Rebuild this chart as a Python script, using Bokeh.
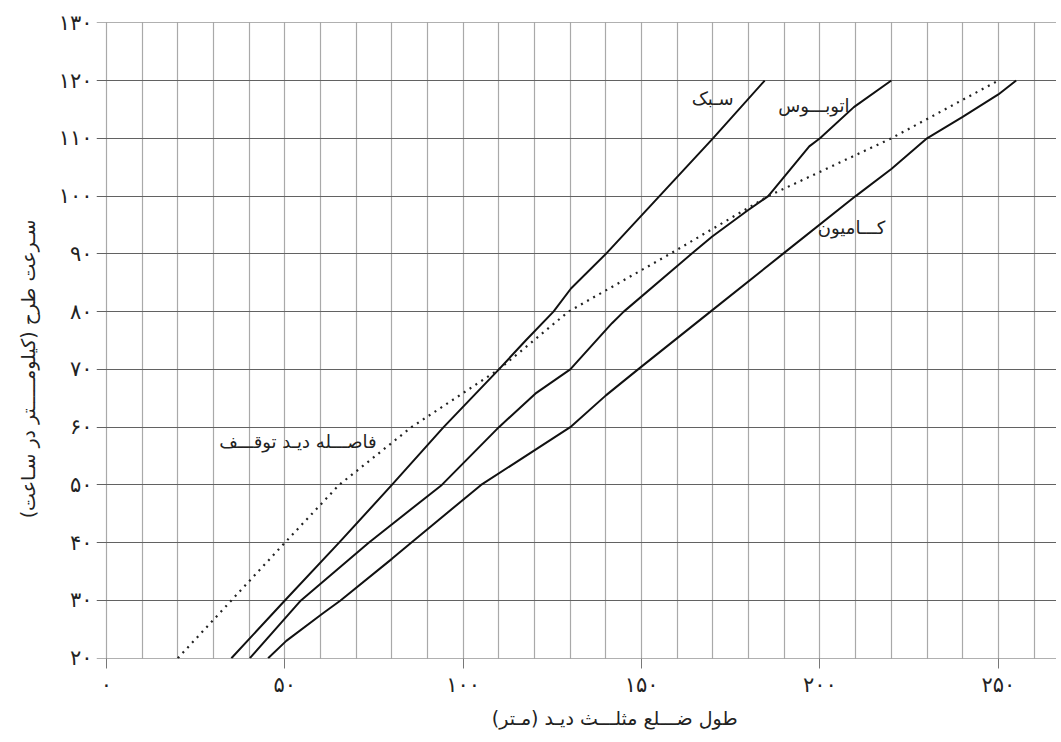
from bokeh.plotting import figure
from bokeh.models import FixedTicker, Range1d, ColumnDataSource, Title
from bokeh.embed import file_html
from bokeh.resources import INLINE
from bokeh.core.properties import value

# ---- data ----
# light vehicles (سبک)
light_x = [35, 50, 65.2, 80, 94.5, 110, 117.5, 125.3, 130.2, 140, 155, 170, 184.5]
light_y = [20, 30, 40, 50, 60, 70, 75, 80, 84, 90, 100, 110, 120]
# bus (اتوبوس)
bus_x = [40.2, 54.5, 73.5, 94, 110, 120.2, 130, 141.7, 145, 164, 169.8, 179.7, 185.5, 197, 200, 209.5, 220]
bus_y = [20, 30, 40, 50, 60, 65.8, 70, 78, 80, 90, 93, 97.5, 100, 108.6, 110, 115.4, 120]
# truck (کامیون)
truck_x = [45.3, 50.4, 60.5, 65.6, 80, 85.4, 105, 130, 140, 149, 169.3, 189.6, 210, 220, 230, 240, 250, 255]
truck_y = [20, 23, 27.7, 30, 37.2, 40, 50, 60, 65.5, 70, 80, 90, 100, 104.7, 110, 113.7, 117.6, 120]
# stopping sight distance (فاصله دید توقف)
stop_x = [20, 35, 50, 65.2, 85.5, 110, 129.5, 158, 185.5, 220, 250]
stop_y = [20, 30, 40, 50, 60, 70, 80, 90, 100, 110, 120]

x_ticks = [0, 50, 100, 150, 200, 250]
x_tick_labels = ["۰", "۵۰", "۱۰۰", "۱۵۰", "۲۰۰", "۲۵۰"]
y_ticks = [20, 30, 40, 50, 60, 70, 80, 90, 100, 110, 120, 130]
y_tick_labels = ["۲۰", "۳۰", "۴۰", "۵۰", "۶۰", "۷۰", "۸۰", "۹۰", "۱۰۰", "۱۱۰", "۱۲۰", "۱۳۰"]

curve_names = ["سـبک", "اتوبـــوس", "کـــامیون", "فاصـــله دیـد توقـــف"]
x_title = "طول ضـــلع مثلـــث دیـد (مـتر)"
y_title = "سـرعت طرح (کیلومـــــتر در سـاعت)"

# label anchor points (right end of each curve name), data units
name_pos_x = [175.8, 208.3, 218.3, 75.7]
name_pos_y = [116.9, 115.7, 94.6, 57.6]

FONT = "DejaVu Sans"
INK = "#222222"

p = figure(width=1056, height=742,
           x_range=Range1d(-2.8, 266.3), y_range=Range1d(19.95, 130.05),
           output_backend="svg", toolbar_location=None,
           min_border_left=96, min_border_right=0,
           min_border_top=22, min_border_bottom=84)
p.outline_line_color = None
p.background_fill_color = "white"
p.border_fill_color = "white"

# grid
p.xgrid.ticker = FixedTicker(ticks=list(range(0, 261, 10)))
p.xgrid.grid_line_color = "#a9a9a9"
p.xgrid.grid_line_width = 1.2
p.ygrid.ticker = FixedTicker(ticks=list(range(20, 131, 10)))
p.ygrid.grid_line_color = "#626262"
p.ygrid.grid_line_width = 1

# x axis
p.xaxis.ticker = FixedTicker(ticks=x_ticks)
p.xaxis.major_label_overrides = {t: s for t, s in zip(x_ticks, x_tick_labels)}
p.xaxis.axis_line_color = None
p.xaxis.major_tick_out = 10
p.xaxis.major_tick_in = 0
p.xaxis.major_tick_line_color = "#777777"
p.xaxis.minor_tick_line_color = None
p.xaxis.major_label_text_font = FONT
p.xaxis.major_label_text_font_size = "21px"
p.xaxis.major_label_text_color = INK
p.xaxis.major_label_standoff = 4

# y axis
p.yaxis.ticker = FixedTicker(ticks=y_ticks)
p.yaxis.major_label_overrides = {t: s for t, s in zip(y_ticks, y_tick_labels)}
p.yaxis.axis_line_color = None
p.yaxis.major_tick_out = 0
p.yaxis.major_tick_in = 0
p.yaxis.minor_tick_line_color = None
p.yaxis.major_label_text_font = FONT
p.yaxis.major_label_text_font_size = "21px"
p.yaxis.major_label_text_color = INK
p.yaxis.major_label_standoff = 4

# curves
for xs, ys in [(light_x, light_y), (bus_x, bus_y), (truck_x, truck_y)]:
    p.line(xs, ys, line_color="#111111", line_width=2)
p.line(stop_x, stop_y, line_color="#222222", line_width=2.2, line_dash="2 5")

# curve names
src = ColumnDataSource(dict(x=name_pos_x, y=name_pos_y, t=curve_names))
p.text(x="x", y="y", text="t", source=src, text_align="right", text_baseline="middle",
       text_font=value(FONT), text_font_size="18px", text_color=INK)

# axis titles
p.add_layout(Title(text=x_title, align="right", offset=319, vertical_align="top", standoff=14,
                   text_font=FONT, text_font_size="19px", text_font_style="normal",
                   text_color=INK), "below")
p.add_layout(Title(text=y_title, align="right", offset=197, vertical_align="top", standoff=30,
                   text_font=FONT, text_font_size="19px", text_font_style="normal",
                   text_color=INK), "left")

open("out.html", "w").write(file_html(p, INLINE))
